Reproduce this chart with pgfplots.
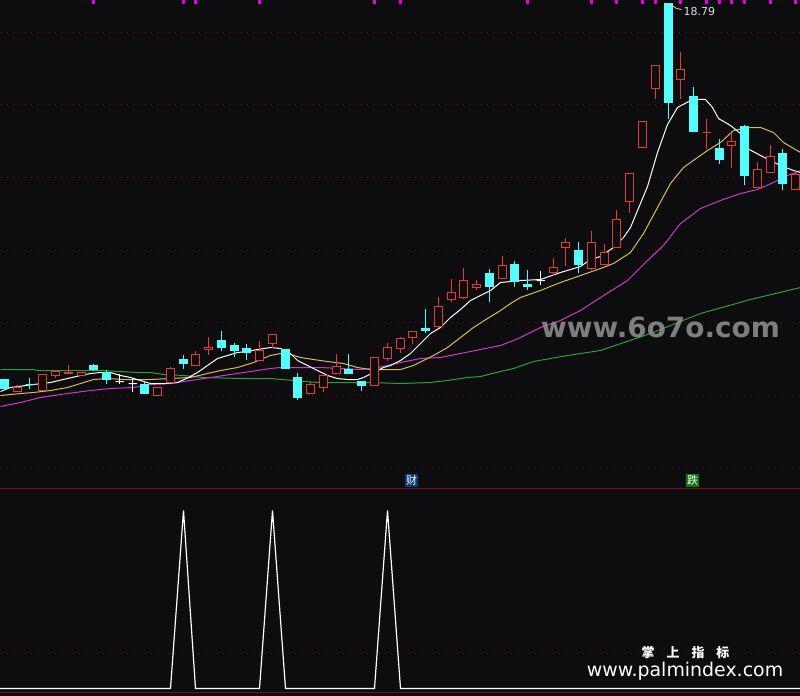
\documentclass[border=0pt]{standalone}
\usepackage{pgfplots}
\pgfplotsset{compat=1.18}
\usepgfplotslibrary{statistics}
\usepackage{fontspec}
\setmainfont{DejaVu Sans}
\newfontfamily\cjk{Noto Sans CJK SC}

\definecolor{bg}{RGB}{13,13,16}
\definecolor{cred}{RGB}{230,58,58}
\definecolor{ccyan}{RGB}{84,252,252}
\definecolor{ma10}{RGB}{212,190,92}
\definecolor{ma20}{RGB}{200,60,200}
\definecolor{ma60}{RGB}{46,160,46}
\definecolor{gridc}{RGB}{110,22,22}
\definecolor{sepc}{RGB}{130,12,12}
\definecolor{tickm}{RGB}{230,0,230}

\pgfplotsset{
  up/.style={draw=cred, fill=bg, line width=1.2bp,
    boxplot/every box/.style={draw=cred, fill=bg},
    boxplot/every whisker/.style={draw=cred},
    boxplot/every median/.style={draw=cred}},
  down/.style={draw=ccyan, fill=ccyan, line width=1bp,
    boxplot/every box/.style={draw=ccyan, fill=ccyan},
    boxplot/every whisker/.style={draw=ccyan},
    boxplot/every median/.style={draw=ccyan}},
  flat/.style={draw=white, fill=white, line width=1bp,
    boxplot/every box/.style={draw=white, fill=white},
    boxplot/every whisker/.style={draw=white},
    boxplot/every median/.style={draw=white}},
}
% x = pixel column, y = pixel row (axis reversed)
% #1 x, #2 high, #3 body top, #4 body bottom, #5 low
\newcommand\candle[6]{\addplot[#1, boxplot prepared={draw direction=y, draw position=#2, lower whisker=#3, lower quartile=#4, median=#4, upper quartile=#5, upper whisker=#6}] coordinates {};}
\newcommand\cR{\candle{up}}
\newcommand\cC{\candle{down}}
\newcommand\cW{\candle{flat}}

\pgfplotstableread{
x y
0 391
10 387
33 384
50 382
67 378
80 375
90 373
100 372
110 372
120 375
130 377
140 380
150 383
165 383
177 382
188 377
197 372
207 365
217 358
227 355
237 352
247 351
257 349
270 347
280 348
290 353
297 360
307 365
317 370
327 375
337 378
347 379
357 379
363 377
373 372
383 367
390 365
400 360
410 353
420 343
430 333
440 327
450 317
460 309
470 300
480 295
490 290
500 282
510 281
520 280
540 279
560 272
580 266
590 259
600 256
613 247
623 237
630 227
637 210
647 186
657 152
667 124
677 107
690 100
697 99
705 99
712 107
718 118
730 125
740 133
747 148
760 155
780 165
793 170
800 172
}\maFive

\pgfplotstableread{
x y
0 395
20 393
33 392
50 390
67 387
80 383
93 379
107 378
123 379
150 379
170 378
190 377
207 373
220 370
237 367
253 362
260 359
270 355
280 353
290 354
300 357
313 359
327 361
343 363
357 367
370 369
400 369
413 365
423 360
433 355
447 347
460 337
473 327
487 318
500 310
510 303
520 297
540 290
560 282
580 275
600 268
613 263
630 252
643 233
657 207
670 183
683 167
697 157
707 150
720 142
733 130
747 127
760 127
773 132
783 142
800 152
}\maTen

\pgfplotstableread{
x y
0 406
20 402
40 397
67 393
90 390
110 388
133 387
150 384
170 383
190 380
210 377
230 374
250 371
270 368
280 367
320 367
340 368
360 369
373 368
387 365
400 362
420 358
440 357
460 353
480 349
500 345
513 340
520 337
540 327
560 320
580 310
600 297
627 280
647 260
663 245
680 223
700 208
720 200
740 193
757 189
773 182
787 175
800 170
}\maTwenty

\pgfplotstableread{
x y
0 369
33 369
37 370
100 370
137 372
150 372
163 374
183 375
203 377
240 378
270 378
293 380
317 382
370 382
400 383
430 382
447 380
467 377
480 376
500 371
513 368
533 361
567 355
600 350
650 333
700 313
750 299
800 287
}\maSixty

\begin{document}
\begin{tikzpicture}
\begin{axis}[
  scale only axis, width=800bp, height=695bp,
  xmin=-0.5, xmax=799.5, ymin=-0.5, ymax=694.5, y dir=reverse,
  axis line style={draw=none}, xtick=\empty, ytick=\empty,
  clip=true,
  boxplot/draw direction=y,
  boxplot/box extend=8, boxplot/whisker extend=0,
]
% background
\addplot[fill=bg, draw=none] coordinates {(-1,-1) (801,-1) (801,696) (-1,696) (-1,-1)};

% dotted grid
\foreach \g in {32,104,177,250,322,395,467,653} {
  \edef\tmp{\noexpand\addplot[gridc, line width=1bp, dash pattern=on 1bp off 5bp] coordinates {(0,\g) (800,\g)};}
  \tmp
}
% panel separator and bottom border
\addplot[sepc, line width=1.2bp] coordinates {(-1,488) (801,488)};
\addplot[sepc, line width=1.2bp] coordinates {(-1,692) (801,692)};

% magenta marks on top edge
\addplot[tickm, ycomb, line width=2.5bp] coordinates {
(93,3.5) (183,3.5) (195,3.5) (259,3.5) (374,3.5) (400,3.5) (527,3.5) (591,3.5) (616,3.5)
(642,3.5) (655,3.5) (680,3.5) (706,3.5) (719,3.5) (731,3.5) (744,3.5) (770,3.5) (795,3.5)};

% moving averages
\addplot[ma60, line width=1bp] table {\maSixty};
\addplot[ma20, line width=1bp] table {\maTwenty};
\addplot[ma10, line width=1bp] table {\maTen};
\addplot[white, line width=1bp] table {\maFive};

% candles
\cC{4}{379}{379}{388}{388}
\cR{17}{384}{387}{391}{391}
\cC{29}{377}{384}{384}{388}
\cR{42}{374}{374}{390}{390}
\cR{55}{371}{371}{375}{377}
\cR{68}{364}{372}{373}{373}
\cR{81}{371}{372}{375}{375}
\cC{93}{363}{365}{369}{370}
\cC{106}{369}{372}{379}{383}
\cW{119}{373}{381}{381}{383}
\cW{132}{377}{383}{383}{391}
\cC{144}{381}{384}{393}{393}
\cR{157}{387}{387}{395}{395}
\cR{170}{366}{368}{382}{382}
\cC{183}{354}{359}{363}{368}
\cR{195}{350}{354}{365}{365}
\cR{208}{336}{347}{349}{354}
\cC{221}{330}{340}{347}{350}
\cC{234}{342}{345}{350}{356}
\cC{246}{343}{348}{352}{359}
\cR{259}{340}{350}{360}{360}
\cR{272}{334}{334}{343}{347}
\cC{285}{349}{349}{368}{368}
\cC{297}{372}{377}{397}{399}
\cR{310}{381}{384}{393}{393}
\cR{323}{375}{375}{387}{391}
\cR{336}{353}{366}{373}{373}
\cC{348}{353}{369}{373}{373}
\cC{361}{381}{381}{385}{390}
\cR{374}{357}{357}{385}{385}
\cR{387}{342}{347}{358}{360}
\cR{400}{336}{338}{348}{352}
\cR{412}{331}{331}{337}{343}
\cC{425}{308}{328}{330}{332}
\cR{438}{296}{306}{326}{327}
\cR{451}{278}{292}{299}{301}
\cR{463}{267}{280}{297}{298}
\cR{476}{279}{284}{287}{289}
\cC{489}{268}{273}{286}{301}
\cR{502}{255}{265}{278}{278}
\cC{514}{260}{264}{281}{286}
\cC{527}{269}{284}{286}{289}
\cW{540}{270}{280}{280}{284}
\cR{553}{257}{267}{272}{275}
\cR{565}{237}{242}{247}{265}
\cC{578}{241}{250}{264}{272}
\cR{591}{230}{242}{268}{269}
\cR{604}{243}{252}{264}{264}
\cR{616}{209}{219}{247}{247}
\cR{629}{173}{173}{201}{212}
\cR{642}{121}{121}{147}{147}
\cR{655}{65}{65}{88}{99}
\cC{668}{3}{3}{102}{118}
\cR{680}{52}{69}{79}{99}
\cC{693}{87}{96}{131}{131}
\cR{706}{118}{132}{132}{148}
\cC{719}{138}{148}{159}{163}
\cR{731}{132}{141}{145}{167}
\cC{744}{124}{126}{175}{184}
\cR{757}{161}{169}{187}{187}
\cR{770}{144}{156}{172}{172}
\cC{782}{148}{153}{183}{189}
\cR{795}{170}{174}{189}{189}

% max label
\addplot[white!85!black, line width=0.8bp] coordinates {(670,4) (676,8) (681,9)};
\node[anchor=west, text=white!88!black, font=\fontsize{11}{11}\selectfont, inner sep=0pt] at (axis cs:683,11) {18.79};

% watermark
\node[text=white!55!bg, opacity=0.85, font=\fontsize{28}{28}\selectfont\bfseries] at (axis cs:660,327) {www.6o7o.com};

% lower panel signal
\addplot[white, line width=1.2bp] coordinates {
(-1,688) (170,688) (183,510) (195,688) (259,688) (272,510) (285,688)
(374,688) (387,510) (400,688) (801,688)};

% event tags
\node[fill={rgb,255:red,10;green,58;blue,110}, text=white, inner sep=0.6bp, minimum size=13bp, font=\cjk\fontsize{11}{11}\selectfont] at (axis cs:411,480) {财};
\node[fill={rgb,255:red,16;green,118;blue,16}, text=white, inner sep=0.6bp, minimum size=13bp, font=\cjk\fontsize{11}{11}\selectfont] at (axis cs:692,480) {跌};

% footer
\node[text=white, font=\cjk\bfseries\fontsize{13}{13}\selectfont] at (axis cs:685,652) {掌\hspace{12bp}上\hspace{12bp}指\hspace{12bp}标};
\node[text=white, font=\fontsize{19}{19}\selectfont] at (axis cs:684.5,671) {www.palmindex.com};
\end{axis}
\end{tikzpicture}
\end{document}
